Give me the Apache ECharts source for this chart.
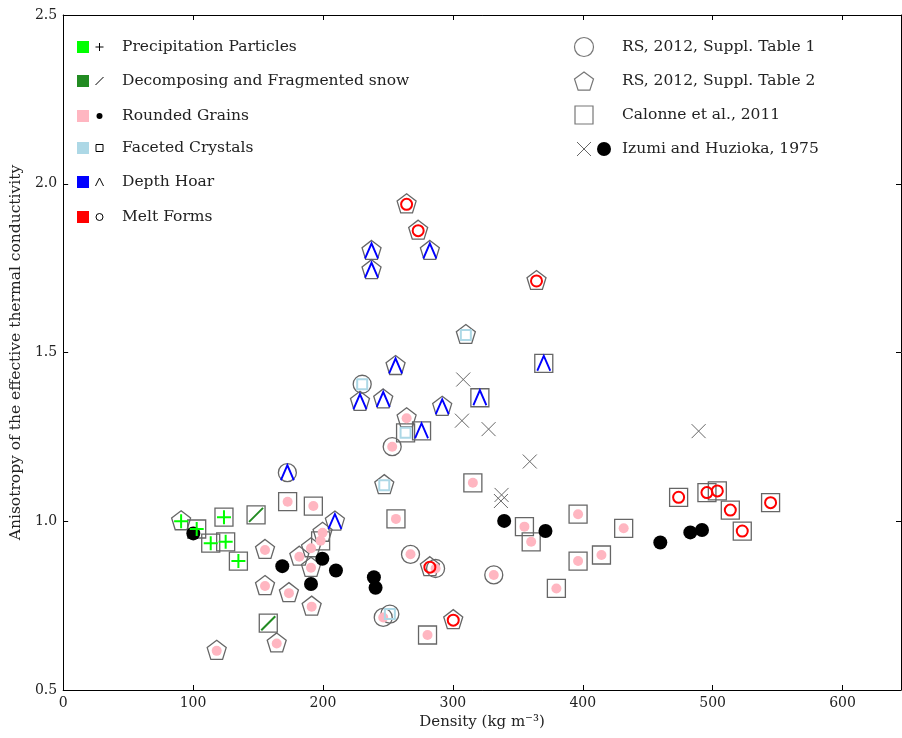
<!DOCTYPE html>
<html>
<head>
<meta charset="utf-8">
<script src="https://cdn.jsdelivr.net/npm/echarts@6/dist/echarts.min.js"></script>
<style>
  html, body { margin: 0; padding: 0; background: #ffffff; }
  #chart { width: 902px; height: 738px; }
</style>
</head>
<body>
<div id="chart"></div>
<script>
// Grain classes: PP precipitation particles, DF decomposing/fragmented snow,
// RG rounded grains, FC faceted crystals, DH depth hoar, MF melt forms.
// Each row: [density (kg m-3), anisotropy, grain class]

const rsSupplTable1 = [
  [172.6, 1.144, 'DH'],
  [230.2, 1.406, 'FC'],
  [253.3, 1.221, 'RG'],
  [267.4, 0.902, 'RG'],
  [286.7, 0.860, 'RG'],
  [331.5, 0.841, 'RG'],
  [246.4, 0.715, 'RG'],
  [251.5, 0.725, 'FC']
];

const rsSupplTable2 = [
  [90.8, 1.000, 'PP'],
  [155.4, 0.915, 'RG'], [155.4, 0.808, 'RG'], [173.8, 0.787, 'RG'],
  [164.4, 0.638, 'RG'], [118.2, 0.616, 'RG'], [181.8, 0.895, 'RG'],
  [191.3, 0.747, 'RG'], [190.8, 0.920, 'RG'], [190.8, 0.862, 'RG'],
  [199.7, 0.966, 'RG'], [264.4, 1.305, 'RG'],
  [237.4, 1.801, 'DH'], [237.4, 1.744, 'DH'], [282.3, 1.801, 'DH'],
  [255.9, 1.460, 'DH'], [228.5, 1.354, 'DH'], [246.4, 1.361, 'DH'],
  [291.8, 1.339, 'DH'], [209.2, 0.999, 'DH'],
  [310.0, 1.552, 'FC'], [247.2, 1.107, 'FC'],
  [264.4, 1.939, 'MF'], [273.3, 1.861, 'MF'], [364.4, 1.712, 'MF'],
  [282.3, 0.864, 'MF'], [300.3, 0.707, 'MF']
];

const calonne2011 = [
  [102.8, 0.977, 'PP'], [123.8, 1.012, 'PP'], [113.6, 0.935, 'PP'],
  [125.1, 0.939, 'PP'], [134.9, 0.882, 'PP'],
  [148.5, 1.019, 'DF'], [157.9, 0.698, 'DF'],
  [172.8, 1.058, 'RG'], [192.6, 1.045, 'RG'], [198.2, 0.942, 'RG'],
  [256.2, 1.007, 'RG'], [315.4, 1.114, 'RG'], [355.1, 0.984, 'RG'],
  [360.3, 0.939, 'RG'], [396.4, 1.021, 'RG'], [396.4, 0.882, 'RG'],
  [379.7, 0.801, 'RG'], [280.5, 0.663, 'RG'], [431.5, 0.979, 'RG'],
  [414.4, 0.900, 'RG'],
  [370.0, 1.468, 'DH'], [320.8, 1.366, 'DH'], [275.9, 1.268, 'DH'],
  [263.6, 1.262, 'FC'],
  [473.8, 1.071, 'MF'], [495.6, 1.085, 'MF'], [503.6, 1.090, 'MF'],
  [513.6, 1.033, 'MF'], [522.8, 0.971, 'MF'], [544.6, 1.055, 'MF']
];

const izumiCrosses = [
  [308.0, 1.420], [307.0, 1.298], [327.5, 1.273], [359.2, 1.177],
  [337.5, 1.078], [337.0, 1.060], [489.2, 1.267]
];

const izumiDots = [
  [100.2, 0.964], [168.7, 0.867], [199.5, 0.889], [210.0, 0.854],
  [190.8, 0.814], [239.2, 0.834], [240.5, 0.803], [339.5, 1.001],
  [371.3, 0.971], [459.7, 0.937], [482.8, 0.967], [491.8, 0.974]
];

const xTicks = [0, 100, 200, 300, 400, 500, 600];
const yTicks = [0.5, 1.0, 1.5, 2.0, 2.5];
const xMax = 645;

const classLabels = ['Precipitation Particles', 'Decomposing and Fragmented snow',
  'Rounded Grains', 'Faceted Crystals', 'Depth Hoar', 'Melt Forms'];
const classCodes = ['PP', 'DF', 'RG', 'FC', 'DH', 'MF'];
const classColors = ['#00ff00', '#228b22', '#ffb6c1', '#add8e6', '#0000ff', '#ff0000'];

const sourceLabels = ['RS, 2012, Suppl. Table 1', 'RS, 2012, Suppl. Table 2',
  'Calonne et al., 2011', 'Izumi and Huzioka, 1975'];

// ---- symbol shapes ----
const PENTAGON = 'path://M0,-1L0.9511,-0.309L0.5878,0.809L-0.5878,0.809L-0.9511,-0.309Z';
const CARET = 'path://M0,10L5,0L10,10';
const PLUS = 'path://M0,5L10,5M5,0L5,10';
const SLASH = 'path://M0,10L10,0';
const CROSS = 'path://M0,0L10,10M10,0L0,10';

const EDGE = '#666666';
const SERIF = 'DejaVu Serif';
const CLEAR = 'rgba(0,0,0,0)';

function xy(rows) { return rows.map(r => [r[0], r[1]]); }

function outerSeries(name, rows, symbol, size, offset) {
  return {
    name, type: 'scatter', data: xy(rows), symbol, symbolSize: size,
    symbolOffset: offset || [0, 0],
    itemStyle: { color: CLEAR, borderColor: EDGE, borderWidth: 1.3, opacity: 1 },
    emphasis: { disabled: true }, silent: true, z: 2
  };
}

const allRows = rsSupplTable1.concat(rsSupplTable2, calonne2011);
function byClass(code) { return xy(allRows.filter(r => r[2] === code)); }

const innerStyle = {
  RG: { symbol: 'circle', size: 10, style: { color: '#ffb6c1', borderWidth: 0, opacity: 1 } },
  FC: { symbol: 'rect', size: 10, style: { color: CLEAR, borderColor: '#add8e6', borderWidth: 2, opacity: 1 } },
  DH: { symbol: CARET, size: [13, 15], style: { color: CLEAR, borderColor: '#0000ff', borderWidth: 2, opacity: 1 } },
  MF: { symbol: 'circle', size: 11, style: { color: CLEAR, borderColor: '#ff0000', borderWidth: 2, opacity: 1 } },
  PP: { symbol: PLUS, size: 14, style: { color: CLEAR, borderColor: '#00ff00', borderWidth: 2, opacity: 1 } },
  DF: { symbol: SLASH, size: 14, style: { color: CLEAR, borderColor: '#228b22', borderWidth: 2, opacity: 1 } }
};

const innerOrder = ['RG', 'FC', 'DH', 'MF', 'PP', 'DF'];

const series = [
  outerSeries(sourceLabels[0], rsSupplTable1, 'circle', 18),
  outerSeries(sourceLabels[1], rsSupplTable2, PENTAGON, 19, [0, -1]),
  outerSeries(sourceLabels[2], calonne2011, 'rect', 18),
  {
    name: 'Izumi crosses', type: 'scatter', data: izumiCrosses, symbol: CROSS, symbolSize: 14,
    itemStyle: { color: CLEAR, borderColor: '#666666', borderWidth: 1, opacity: 1 },
    emphasis: { disabled: true }, silent: true, z: 2
  },
  {
    name: 'Izumi dots', type: 'scatter', data: izumiDots, symbol: 'circle', symbolSize: 14,
    itemStyle: { color: '#000000', borderWidth: 0, opacity: 1 },
    emphasis: { disabled: true }, silent: true, z: 3
  }
].concat(innerOrder.map(code => ({
  name: code, type: 'scatter', data: byClass(code),
  symbol: innerStyle[code].symbol, symbolSize: innerStyle[code].size,
  itemStyle: innerStyle[code].style, emphasis: { disabled: true }, silent: true, z: 4
})));

// ---- legends ----
const graphics = [];
const leftRows = [47, 81, 116, 148, 182, 217];
const legendFont = { fontFamily: SERIF, fontSize: 15.5, fill: '#222' };

function legendText(x, y, text) {
  return { type: 'text', x, y, style: Object.assign({ text, verticalAlign: 'middle', align: 'left' }, legendFont), silent: true };
}

function smallGlyph(code, cx, cy) {
  const s = { stroke: '#000', lineWidth: 1, fill: null };
  switch (code) {
    case 'PP': return [
      { type: 'line', shape: { x1: cx - 4, y1: cy, x2: cx + 4, y2: cy }, style: s },
      { type: 'line', shape: { x1: cx, y1: cy - 4, x2: cx, y2: cy + 4 }, style: s }];
    case 'DF': return [{ type: 'line', shape: { x1: cx - 4, y1: cy + 4, x2: cx + 4, y2: cy - 4 }, style: s }];
    case 'RG': return [{ type: 'circle', shape: { cx, cy, r: 3 }, style: { fill: '#000' } }];
    case 'FC': return [{ type: 'rect', shape: { x: cx - 3.5, y: cy - 3.5, width: 7, height: 7 }, style: s }];
    case 'DH': return [{ type: 'polyline', shape: { points: [[cx - 4, cy + 4], [cx, cy - 4], [cx + 4, cy + 4]] }, style: s }];
    case 'MF': return [{ type: 'circle', shape: { cx, cy, r: 3.5 }, style: s }];
  }
  return [];
}

classCodes.forEach((code, i) => {
  const y = leftRows[i];
  graphics.push({ type: 'rect', shape: { x: 77, y: y - 6, width: 12, height: 12 }, style: { fill: classColors[i] }, silent: true });
  smallGlyph(code, 99.5, y).forEach(g => { g.silent = true; graphics.push(g); });
  graphics.push(legendText(122, y, classLabels[i]));
});

const rightRows = [47, 81, 115, 149];
const mx = 584;
const edgeStyle = { stroke: '#777', lineWidth: 1.2, fill: null };
graphics.push({ type: 'circle', shape: { cx: mx, cy: rightRows[0], r: 9.5 }, style: edgeStyle, silent: true });
const pent = [];
for (let k = 0; k < 5; k++) {
  const a = -Math.PI / 2 + k * 2 * Math.PI / 5;
  pent.push([mx + 10 * Math.cos(a), rightRows[1] + 1 + 10 * Math.sin(a)]);
}
graphics.push({ type: 'polygon', shape: { points: pent }, style: edgeStyle, silent: true });
graphics.push({ type: 'rect', shape: { x: mx - 9, y: rightRows[2] - 9, width: 18, height: 18 }, style: edgeStyle, silent: true });
graphics.push({ type: 'line', shape: { x1: mx - 7, y1: rightRows[3] - 7, x2: mx + 7, y2: rightRows[3] + 7 }, style: { stroke: '#666', lineWidth: 1 }, silent: true });
graphics.push({ type: 'line', shape: { x1: mx + 7, y1: rightRows[3] - 7, x2: mx - 7, y2: rightRows[3] + 7 }, style: { stroke: '#666', lineWidth: 1 }, silent: true });
graphics.push({ type: 'circle', shape: { cx: 604, cy: rightRows[3], r: 7 }, style: { fill: '#000' }, silent: true });
sourceLabels.forEach((t, i) => graphics.push(legendText(622, rightRows[i], t)));

// ---- axes ----
const spine = { show: true, onZero: false, lineStyle: { color: '#000', width: 1 } };
const ticksIn = { show: true, inside: true, length: 5, lineStyle: { color: '#000', width: 1 } };

const chart = echarts.init(document.getElementById('chart'), null, { renderer: 'canvas' });
chart.setOption({
  animation: false,
  backgroundColor: '#ffffff',
  grid: { left: 63, right: 1, top: 15, bottom: 48, containLabel: false },
  xAxis: [
    {
      type: 'value', position: 'bottom', min: xTicks[0], max: xMax, interval: xTicks[1] - xTicks[0],
      axisLine: spine, axisTick: ticksIn, splitLine: { show: false },
      axisLabel: { showMaxLabel: false, margin: 6, fontFamily: SERIF, fontSize: 14, color: '#222' },
      name: 'Density (kg m⁻³)', nameLocation: 'middle', nameGap: 24,
      nameTextStyle: { fontFamily: SERIF, fontSize: 15, color: '#222' }
    },
    {
      type: 'value', position: 'top', min: xTicks[0], max: xMax, interval: xTicks[1] - xTicks[0],
      axisLine: spine, axisTick: ticksIn, axisLabel: { show: false }, splitLine: { show: false }
    }
  ],
  yAxis: [
    {
      type: 'value', position: 'left', min: yTicks[0], max: yTicks[yTicks.length - 1], interval: yTicks[1] - yTicks[0],
      axisLine: spine, axisTick: ticksIn, splitLine: { show: false },
      axisLabel: { margin: 6, fontFamily: SERIF, fontSize: 14, color: '#222', formatter: v => v.toFixed(1) },
      name: 'Anisotropy of the effective thermal conductivity', nameLocation: 'middle', nameGap: 37,
      nameTextStyle: { fontFamily: SERIF, fontSize: 15.5, color: '#222' }
    },
    {
      type: 'value', position: 'right', min: yTicks[0], max: yTicks[yTicks.length - 1], interval: yTicks[1] - yTicks[0],
      axisLine: spine, axisTick: ticksIn, axisLabel: { show: false }, splitLine: { show: false }
    }
  ],
  series: series,
  graphic: graphics
});
</script>
</body>
</html>
